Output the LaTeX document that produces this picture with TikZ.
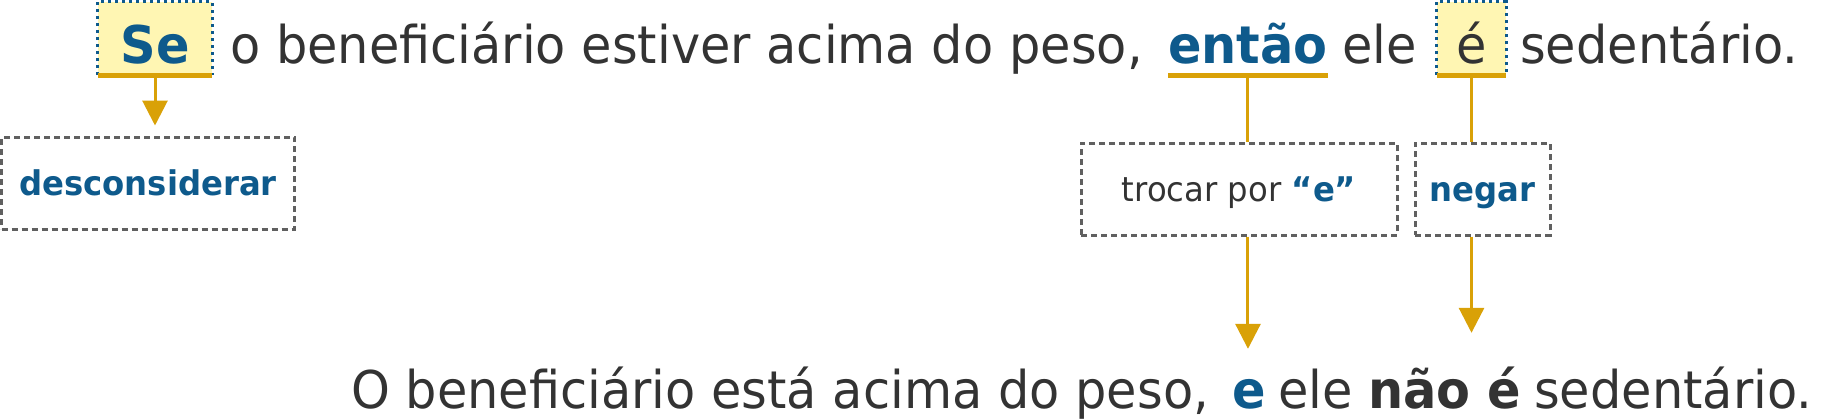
\documentclass[tikz,border=0pt]{standalone}
\usepackage{fontspec}
\setmainfont{DejaVu Sans}[FakeStretch=0.95]
\usetikzlibrary{arrows.meta,positioning}
\definecolor{txtgray}{HTML}{333333}
\definecolor{keyblue}{HTML}{0E5A8C}
\definecolor{gold}{HTML}{D9A107}
\definecolor{hlyellow}{HTML}{FFF6B3}
\definecolor{boxgray}{HTML}{606060}
\newcommand\topfont{\fontsize{52}{62}\selectfont}
\newcommand\notefont{\fontsize{34}{40}\selectfont}

\begin{document}
\begin{tikzpicture}[x=1pt,y=1pt,
	every node/.style={inner sep=0pt,text=txtgray},
	words/.style={font=\topfont,anchor=base west,text height=61pt,text depth=12pt},
	low/.style={font=\topfont,anchor=base west,text height=59pt,text depth=12pt},
	kw/.style={text=keyblue,font=\topfont\bfseries},
	hilite/.style={fill=hlyellow,anchor=base,text height=61pt,text depth=12pt},
	hiliteedge/.style={keyblue,line width=3pt,dash pattern=on 3pt off 4pt},
	uline/.style={gold,line width=5pt},
	link/.style={gold,line width=3pt},
	arr/.style={link,-{Triangle[width=25pt,length=25pt]}},
	rulebox/.style={draw=boxgray,line width=3pt,dash pattern=on 6pt off 4pt,
		minimum height=92pt,text height=25pt,text depth=0pt,font=\notefont}]
	\useasboundingbox (0,0) rectangle (1822,-418);

	\node[hilite,kw,minimum width=114pt] (se) at (155,-63) {Se};
	\node[words] (t1) at (230,-63) {o beneficiário estiver acima do peso,};
	\node[words,kw] (entao) at (1168,-63) {então};
	\node[words] (ele) at (1342,-63) {ele};
	\node[hilite,font=\topfont,minimum width=69pt] (ebox) at (1471.5,-63) {é};
	\node[words] (sed) at (1520,-63) {sedentário.};
	\draw[hiliteedge] (se.south west) |- (se.north east) -- (se.south east);
	\draw[hiliteedge] (ebox.south west) |- (ebox.north east) -- (ebox.south east);
	\draw[uline] (se.south west) -- (se.south east);
	\draw[uline] (entao.south west) -- (entao.south east);
	\draw[uline] (ebox.south west) -- (ebox.south east);

	\node[rulebox,minimum width=293pt,text=keyblue,font=\notefont\bfseries] (desc) at (148,-183) {desconsiderar};
	\node[rulebox,minimum width=316pt] (troca) at (1239,-189) {trocar por \textcolor{keyblue}{\bfseries ``e''}};
	\node[rulebox,minimum width=135pt,text=keyblue,font=\notefont\bfseries] (negar) at (1482.5,-189) {negar};

	\node[low] (b1) at (351,-408) {O beneficiário está acima do peso,};
	\node[low,kw] (b2) at (1232,-408) {e};
	\node[low] (b3) at (1278,-408) {ele};
	\node[low,font=\topfont\bfseries] (b4) at (1368,-408) {não é};
	\node[low] (b5) at (1534,-408) {sedentário.};

	\draw[arr,shorten >=10pt] (se.south) -- (se.south |- desc.north);
	\draw[link] (entao.south) -- (entao.south |- troca.north);
	\draw[link] (ebox.south) -- (ebox.south |- negar.north);
	\draw[arr] (entao.south |- troca.south) -- (entao.south |- b2.north);
	\draw[arr,shorten >=16pt] (ebox.south |- negar.south) -- (ebox.south |- b4.north);
\end{tikzpicture}
\end{document}
